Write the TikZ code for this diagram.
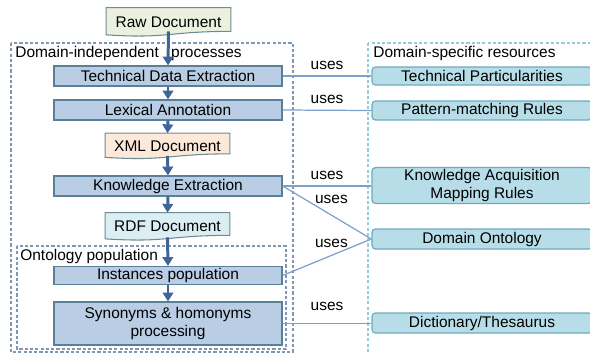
\documentclass[tikz,border=0pt]{standalone}
\usepackage{fontspec}
\setmainfont{Liberation Sans}
\usepackage{tikz}
\usetikzlibrary{arrows.meta, positioning, backgrounds, calc}
\definecolor{proccol}{HTML}{B9CDE5}
\definecolor{procline}{HTML}{5A7F98}
\definecolor{rescol}{HTML}{B7DEE8}
\definecolor{resline}{HTML}{6FA9BD}
\definecolor{rawcol}{HTML}{EBF1DE}
\definecolor{xmlcol}{HTML}{FDE9D9}
\definecolor{rdfcol}{HTML}{DBEEF4}
\definecolor{docline}{HTML}{6E8C93}
\definecolor{flowcol}{HTML}{3D6598}
\definecolor{usescol}{HTML}{7EA0CC}
\definecolor{indepcol}{HTML}{7F97B5}
\definecolor{speccol}{HTML}{92CDDC}

\begin{document}
\begin{tikzpicture}[
  font=\fontsize{8.8}{10.2}\selectfont,
  every node/.style={align=center},
  box/.style={draw=procline, fill=proccol, line width=0.7pt,
              minimum width=4.56cm, inner sep=1pt},
  resbox/.style={draw=resline, fill=rescol, line width=0.7pt,
                 rounded corners=2pt, minimum width=4.40cm, inner sep=1pt},
  docbox/.style={minimum width=2.48cm, inner sep=1pt,
                 text height=8.6pt, text depth=0pt},
  doc/.style={draw=docline, line width=0.6pt},
  arr/.style={-{Triangle[length=5pt, width=6pt]}, line width=1.7pt, flowcol},
  uses/.style={usescol, line width=0.7pt},
  grp/.style={dash pattern=on 1.8pt off 1.2pt, line width=0.6pt},
  title/.style={anchor=west, inner sep=0pt}
]
\clip (0,0) rectangle (11.8,-7.06);

%% ── Groups ────────────────────────────────────────────────────────────────
\draw[grp, draw=indepcol] (0.22,-0.86) rectangle (5.86,-7.04);
\draw[grp, draw=indepcol] (0.34,-4.92) rectangle (5.72,-6.98);
\draw[grp, draw=speccol] (7.36,-0.86) rectangle (12.0,-7.20);

\node[title] (indep) at (0.30,-1.06) {Domain-independent\hspace{7pt}processes};
\node[title] (spec)  at (7.46,-1.06) {Domain-specific resources};
\node[title] (onto)  at (0.40,-5.12) {Ontology population};

%% ── Documents ─────────────────────────────────────────────────────────────
\node[docbox, minimum height=0.46cm] (raw) at (3.37,-0.39) {Raw Document};
\node[docbox, minimum height=0.40cm] (xml) at (3.35,-2.87) {XML Document};
\node[docbox, minimum height=0.44cm] (rdf) at (3.35,-4.48) {RDF Document};

\begin{scope}[on background layer]
  \foreach \d/\c in {raw/rawcol, xml/xmlcol, rdf/rdfcol}
    \draw[doc, fill=\c] (\d.north west) -- (\d.north east) -- (\d.south east)
      .. controls (\d.south) and ($(\d.south)+(0,-0.15)$) ..
      ($(\d.south west)+(0,-0.07)$) -- cycle;
\end{scope}

%% ── Processes ─────────────────────────────────────────────────────────────
\node[box, minimum height=0.40cm] (tde) at (3.36,-1.52) {Technical Data Extraction};
\node[box, minimum height=0.40cm] (lex) at (3.36,-2.20) {Lexical Annotation};
\node[box, minimum height=0.40cm] (ke)  at (3.36,-3.72) {Knowledge Extraction};
\node[box, minimum height=0.34cm] (ip)  at (3.36,-5.51) {Instances population};
\node[box, minimum height=0.86cm] (syn) at (3.36,-6.47)
      {Synonyms \& homonyms\\processing};

\draw[arr] (raw.south) -- (tde.north);
\draw[arr] (tde.south) -- (lex.north);
\draw[arr] (lex.south) -- (xml.north);
\draw[arr] ($(xml.south)+(0,-0.04)$) -- (ke.north);
\draw[arr] (ke.south)  -- (rdf.north);
\draw[arr] ($(rdf.south)+(0,-0.04)$) -- (ip.north);
\draw[arr] (ip.south)  -- (syn.north);

%% ── Resources ─────────────────────────────────────────────────────────────
\node[resbox, minimum height=0.36cm] (tp)   at (9.64,-1.52) {Technical Particularities};
\node[resbox, minimum height=0.38cm] (pmr)  at (9.64,-2.21) {Pattern-matching Rules};
\node[resbox, minimum height=0.70cm] (kamr) at (9.64,-3.71)
      {Knowledge Acquisition\\Mapping Rules};
\node[resbox, minimum height=0.40cm] (dom)  at (9.64,-4.78) {Domain Ontology};
\node[resbox, minimum height=0.40cm] (dict) at (9.64,-6.46) {Dictionary/Thesaurus};

%% ── uses links ────────────────────────────────────────────────────────────
\draw[uses] (tde.east) -- node[above, black]{uses} (tp.west);
\draw[uses] (lex.east) -- node[above, black]{uses} (pmr.west);
\draw[uses] (ke.east)  -- node[above, black]{uses} (ke.east -| kamr.west);
\draw[uses] (ke.east)  -- node[pos=.55, above, black, yshift=3pt]{uses} (dom.west);
\draw[uses] (ip.east)  -- node[pos=.55, above, black, yshift=1pt]{uses} (dom.west);
\draw[uses] (syn.east) -- node[above, black, yshift=3.5pt]{uses} (syn.east -| dict.west);

\end{tikzpicture}
\end{document}
